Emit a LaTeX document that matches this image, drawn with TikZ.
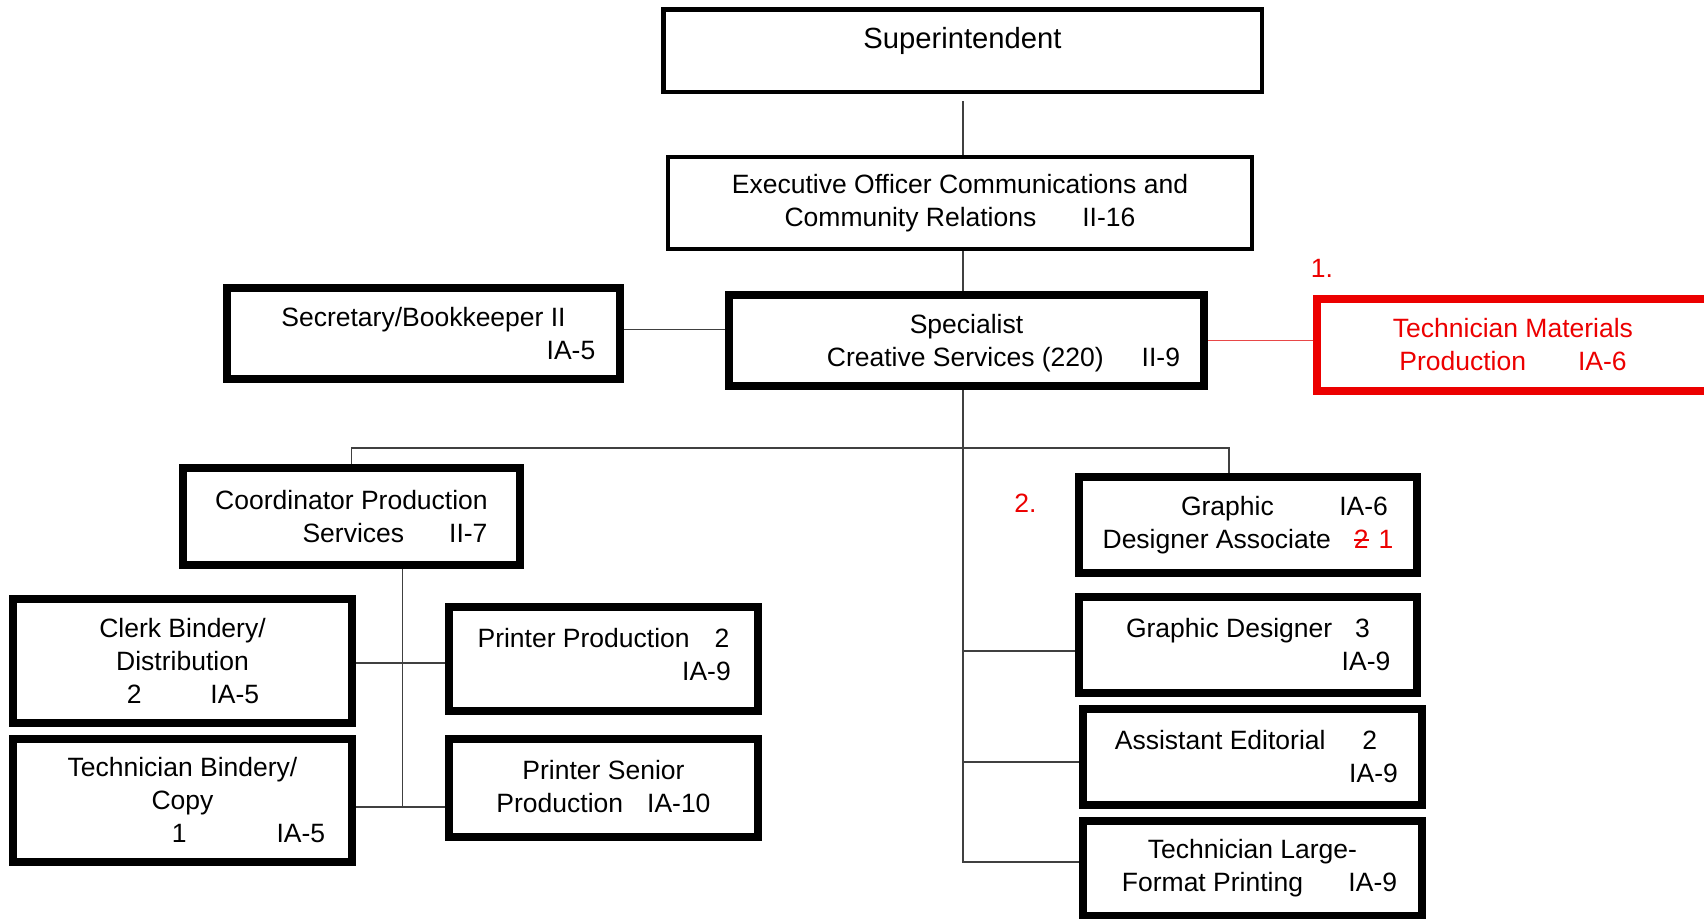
\documentclass[tikz,border=0pt]{standalone}
\usepackage{fontspec}
\setmainfont{Liberation Sans}
\usepackage{tikz}
\usetikzlibrary{calc}
\definecolor{revred}{RGB}{236,0,0}
\definecolor{linkred}{RGB}{232,72,72}
\newcommand{\strikeout}[1]{\setbox0=\hbox{#1}\rlap{\rule[0.28em]{\wd0}{0.07em}}\box0}

\begin{document}
\begin{tikzpicture}[x=0.5pt,y=-0.5pt,
	every node/.style={font=\fontsize{13.25pt}{16.5pt}\selectfont, inner sep=0pt, align=center},
	post/.style 2 args={draw, line width=4pt, minimum width=#1, minimum height=#2},
	link/.style={line width=0.75pt, draw=black!75}]
	\useasboundingbox (0,0) rectangle (1704,918);
	
	%top of the chart
	\node[post={299.25pt}{41.25pt}, line width=2.25pt, text height=10.5pt, text depth=12.5pt,
		font=\fontsize{14.6pt}{17pt}\selectfont] (sup) at (962.5,50.5) {Superintendent};
	\node[post={292pt}{46pt}, line width=2pt] (exec) at (960,203)
		{Executive Officer Communications and\\Community Relations\hspace{23pt}II-16};
	\node[post={237.5pt}{45.5pt}, text depth=0pt] (spec) at (966.5,340.5)
		{Specialist\\\hspace*{37pt}Creative Services (220)\hspace{19pt}II-9};
	\node[post={196.5pt}{45.5pt}] (sec) at (423.5,333.5)
		{Secretary/Bookkeeper II\\\hspace*{147.5pt}IA-5};
	\node[post={196pt}{46pt}, draw=revred, text=revred, yshift=-1pt] (tmp) at (1513,343)
		{Technician Materials\\Production\hspace{26pt}IA-6};
	\node[text=revred] (one) at (1322,268) {1.};
	
	%production side
	\node[post={168.5pt}{48.5pt}] (coord) at (351.5,516.5)
		{Coordinator Production\\\hspace*{43.5pt}Services\hspace{22.5pt}II-7};
	\node[post={169.5pt}{62pt}] (clerk) at (182.5,661)
		{Clerk Bindery/\\Distribution\\\hspace*{10.5pt}2\hspace{34.4pt}IA-5};
	\node[post={169.5pt}{61.5pt}] (tb) at (182.5,800.5)
		{Technician Bindery/\\Copy\\\hspace*{66pt}1\hspace{45pt}IA-5};
	\node[post={154.5pt}{52pt}, text depth=5pt] (pp) at (603.5,659)
		{Printer Production\hspace{12.5pt}2\\\hspace*{103pt}IA-9};
	\node[post={154.5pt}{49pt}, text depth=2pt] (ps) at (603.5,788)
		{Printer Senior\\Production\hspace{12pt}IA-10};
	
	%design side
	\node[post={169pt}{48pt}] (gda) at (1248,525)
		{\hspace*{36.5pt}Graphic\hspace{32.8pt}IA-6\\Designer Associate\hspace{11.5pt}\textcolor{revred}{\strikeout{2}\hspace{5pt}1}};
	\node[text=revred] (two) at (1025.5,503) {2.};
	\node[post={169pt}{48pt}] (gd) at (1248,645)
		{Graphic Designer\hspace{11.5pt}3\\\hspace*{118pt}IA-9};
	\node[post={169.5pt}{48pt}] (ae) at (1252.5,757)
		{Assistant Editorial\hspace{18.4pt}2\hspace*{6.5pt}\\\hspace*{121pt}IA-9};
	\node[post={169.5pt}{47.5pt}] (tl) at (1252.5,868.5)
		{Technician Large-\\\hspace*{7pt}Format Printing\hspace{22.7pt}IA-9};
	
	%lines
	\coordinate (spine) at (963,0);
	\coordinate (bus) at (963,448);
	\coordinate (trunk) at ($(coord.south)+(51,0)$);
	\coordinate (secin) at ([yshift=2pt]sec.east);
	\coordinate (gdin) at ([yshift=-3pt]gd.west);
	\coordinate (aein) at ([yshift=-2.5pt]ae.west);
	\coordinate (tlin) at ([yshift=3.25pt]tl.west);
	\coordinate (clerkout) at ([yshift=-1pt]clerk.east);
	\coordinate (tbout) at ([yshift=-3.25pt]tb.east);
	\draw[link, shorten <=3.5pt] (spine |- sup.south) -- (spine |- exec.north);
	\draw[link] (spine |- exec.south) -- (spine |- spec.north);
	\draw[link] (secin) -- (secin -| spec.west);
	\draw[link, draw=linkred] (spec.east) -- (spec.east -| tmp.west);
	\draw[link] (coord.north) |- (bus) -| ($(gda.north)+(-19,0)$);
	\draw[link] (spine |- spec.south) -- (spine |- tlin) -- (tlin);
	\draw[link] (spine |- gdin) -- (gdin);
	\draw[link] (spine |- aein) -- (aein);
	\draw[link] (trunk) -- (trunk |- tbout);
	\draw[link] (clerkout) -- (clerkout -| pp.west);
	\draw[link] (tbout) -- (tbout -| ps.west);
\end{tikzpicture}
\end{document}
